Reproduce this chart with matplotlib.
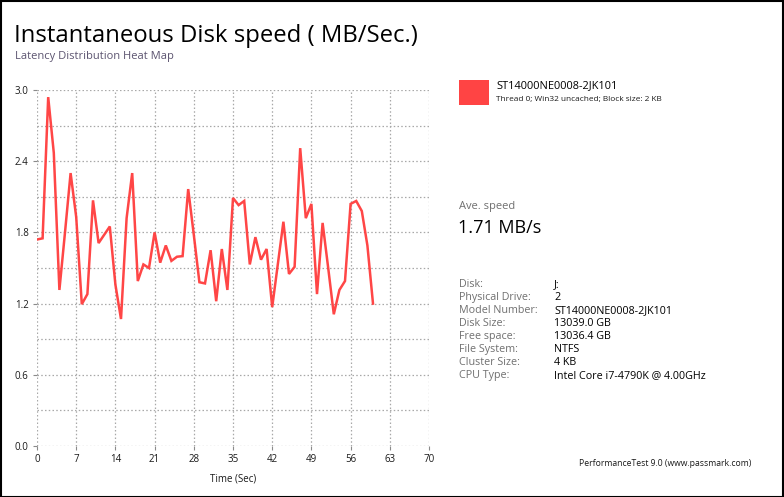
import matplotlib
matplotlib.use("Agg")
import matplotlib.pyplot as plt
from matplotlib.patches import Rectangle

plt.rcParams['font.family'] = ['Open Sans', 'DejaVu Sans']

# ---- data ----
time_sec = list(range(0, 61))
speed_mbs = [1.74, 1.75, 2.94, 2.47, 1.315, 1.80, 2.30, 1.93, 1.195, 1.28,
             2.07, 1.71, 1.78, 1.85, 1.36, 1.07, 1.92, 2.30, 1.39, 1.53,
             1.50, 1.80, 1.545, 1.69, 1.56, 1.595, 1.60, 2.165, 1.78, 1.38,
             1.37, 1.65, 1.22, 1.66, 1.315, 2.09, 2.03, 2.065, 1.53, 1.76,
             1.57, 1.66, 1.17, 1.53, 1.89, 1.45, 1.51, 2.51, 1.92, 2.04,
             1.28, 1.88, 1.50, 1.11, 1.315, 1.39, 2.04, 2.065, 1.98, 1.69,
             1.20]
x_ticks = [0, 7, 14, 21, 28, 35, 42, 49, 56, 63, 70]
y_ticks = [0.0, 0.6, 1.2, 1.8, 2.4, 3.0]
y_grid = [0.0, 0.3, 0.6, 0.9, 1.2, 1.5, 1.8, 2.1, 2.4, 2.7, 3.0]

title = "Instantaneous Disk speed ( MB/Sec.)"
subtitle = "Latency Distribution Heat Map"
series_name = "ST14000NE0008-2JK101"
series_desc = "Thread 0; Win32 uncached; Block size: 2 KB"
avg_label = "Ave. speed"
avg_value = "1.71 MB/s"
info_labels = ["Disk:", "Physical Drive:", "Model Number:", "Disk Size:",
               "Free space:", "File System:", "Cluster Size:", "CPU Type:"]
info_values = ["J:", "2", "ST14000NE0008-2JK101", "13039.0 GB",
               "13036.4 GB", "NTFS", "4 KB", "Intel Core i7-4790K @ 4.00GHz"]
footer = "PerformanceTest 9.0 (www.passmark.com)"

W, H = 784, 497
fig = plt.figure(figsize=(W / 100, H / 100), dpi=100)
fig.patch.set_facecolor('white')

def fx(px):
    return px / W

def fy(py):
    return 1 - py / H

# axes: x 37..429 px, y 90..446 px
ax = fig.add_axes([fx(37), fy(446), (429 - 37) / W, (446 - 90) / H])
line_color = '#ff3c3c'
ax.plot(time_sec, speed_mbs, color=line_color, lw=1.8, alpha=0.95,
        solid_joinstyle='miter')
ax.set_xlim(0, 70)
ax.set_ylim(0, 3.0)
ax.set_xticks(x_ticks)
ax.set_xticklabels([str(v) for v in x_ticks])
ax.set_yticks(y_ticks)
ax.set_yticklabels([f"{v:.1f}" for v in y_ticks])
ax.set_yticks(y_grid, minor=True)
for s in ax.spines.values():
    s.set_visible(False)
ax.grid(True, which='major', axis='x', color='#a8a8a8', ls=(0, (1.2, 1.8)), lw=0.9)
ax.grid(True, which='both', axis='y', color='#a8a8a8', ls=(0, (1.2, 1.8)), lw=0.9)
ax.tick_params(axis='both', which='major', labelsize=7, colors='#8a8a8a',
               labelcolor='#1a1a1a', length=3, width=0.8, pad=3)
ax.tick_params(axis='y', which='minor', length=0)
ax.set_axisbelow(True)
ax.set_xlabel("Time (Sec)", fontsize=7, color='#1a1a1a', labelpad=6)

# title texts
fig.text(fx(14), fy(36), title, fontsize=17.2, color='black', va='center', ha='left')
fig.text(fx(15), fy(57), subtitle, fontsize=8, color='#5c5470', va='center', ha='left')

# legend
fig.patches.append(Rectangle((fx(459), fy(104.5)), 30 / W, 24.5 / H,
                             transform=fig.transFigure, facecolor='#ff4444',
                             edgecolor='none'))
fig.text(fx(496), fy(86), series_name, fontsize=7.9, color='black', va='center', ha='left')
fig.text(fx(496), fy(100), series_desc, fontsize=5.95, color='#1a1a1a', va='center', ha='left')

# average
fig.text(fx(459), fy(207), avg_label, fontsize=8, color='#707070', va='center', ha='left')
fig.text(fx(458), fy(228), avg_value, fontsize=13, color='black', va='center', ha='left')

# info table
row_y0, row_dy = 284.3, 13.0
for i, (lab, val) in enumerate(zip(info_labels, info_values)):
    y = row_y0 + i * row_dy
    fig.text(fx(459), fy(y), lab, fontsize=7.75, color='#707070', va='center', ha='left')
    fig.text(fx(554), fy(y), val, fontsize=7.75, color='black', va='center', ha='left')

fig.text(fx(579), fy(463), footer, fontsize=6.2, color='#1a1a1a', va='center', ha='left')

# outer frame
fig.patches.append(Rectangle((0.5 / W, 0.5 / H), (W - 2) / W, (H - 1.5) / H,
                             transform=fig.transFigure, facecolor='none',
                             edgecolor='black', lw=1.5))

fig.savefig("out.png", dpi=100)
